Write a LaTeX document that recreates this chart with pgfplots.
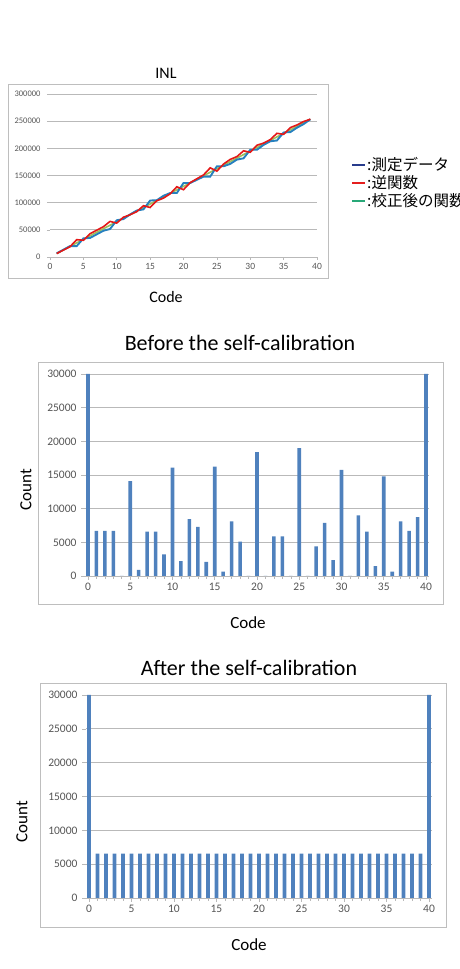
\documentclass[border=0pt]{standalone}
\usepackage{pgfplots}
\pgfplotsset{compat=1.18}
\usepackage{pgfplotstable}
\usepackage{fontspec}
\setmainfont{Carlito}
\newfontfamily\cjk{Noto Sans CJK JP}

\definecolor{barblue}{RGB}{79,129,189}
\definecolor{gridgray}{RGB}{185,185,185}
\definecolor{boxgray}{RGB}{190,190,190}
\definecolor{ticktext}{RGB}{85,85,85}
\definecolor{meas}{RGB}{38,128,190}
\definecolor{inv}{RGB}{228,24,24}
\definecolor{cal}{RGB}{160,190,90}
\definecolor{legblue}{RGB}{40,60,140}
\definecolor{legred}{RGB}{228,30,30}
\definecolor{leggreen}{RGB}{40,168,120}

% code histogram before calibration
\pgfplotstableread{
code count
0 30000
1 6700
2 6700
3 6700
4 0
5 14100
6 900
7 6600
8 6600
9 3200
10 16100
11 2200
12 8450
13 7300
14 2100
15 16250
16 650
17 8100
18 5100
19 0
20 18400
21 0
22 5900
23 5900
24 0
25 19000
26 0
27 4400
28 7900
29 2350
30 15750
31 0
32 9000
33 6600
34 1450
35 14800
36 650
37 8100
38 6700
39 8750
40 30000
}\before

% code histogram after calibration
\pgfplotstableread{
code count
0 30000
1 6550
2 6550
3 6550
4 6550
5 6550
6 6550
7 6550
8 6550
9 6550
10 6550
11 6550
12 6550
13 6550
14 6550
15 6550
16 6550
17 6550
18 6550
19 6550
20 6550
21 6550
22 6550
23 6550
24 6550
25 6550
26 6550
27 6550
28 6550
29 6550
30 6550
31 6550
32 6550
33 6550
34 6550
35 6550
36 6550
37 6550
38 6550
39 6550
40 30000
}\after

% transfer curves: measured, inverse, calibrated
\pgfplotstableread{
code meas inv cal
1 6700 6300 6500
2 13400 12600 13000
3 20100 18900 19500
4 20100 31900 26000
5 34200 30800 32500
6 35100 42900 39000
7 41700 49300 45500
8 48300 55700 52000
9 51500 65500 58500
10 67600 62400 65000
11 69800 73200 71500
12 78250 77750 78000
13 85550 83450 84500
14 87650 94350 91000
15 103900 91100 97500
16 104550 103450 104000
17 112650 108350 110500
18 117750 116250 117000
19 117750 129250 123500
20 136150 123850 130000
21 136150 136850 136500
22 142050 143950 143000
23 147950 151050 149500
24 147950 164050 156000
25 166950 158050 162500
26 166950 171050 169000
27 171350 179650 175500
28 179250 184750 182000
29 181600 195400 188500
30 197350 192650 195000
31 197350 205650 201500
32 206350 209650 208000
33 212950 216050 214500
34 214400 227600 221000
35 229200 225800 227500
36 229850 238150 234000
37 237950 243050 240500
38 244650 249350 247000
39 253400 253600 253500
}\inl

\pgfplotsset{
  histo/.style={
    anchor=south west, scale only axis,
    xmin=-0.35, xmax=40.35, ymin=0, ymax=30000,
    axis x line*=bottom, axis y line*=left,
    y axis line style={draw=none},
    x axis line style={gridgray, line width=0.7pt},
    ymajorgrids, grid style={gridgray, line width=0.7pt},
    xtick={0,5,...,40}, minor xtick={0,1,...,40},
    ytick={0,5000,...,30000},
    tick align=outside, tick style={gridgray, line width=0.6pt},
    major tick length=4pt, minor tick length=3pt,
    scaled y ticks=false,
    /pgf/number format/fixed,
    /pgf/number format/1000 sep={},
    /pgf/number format/assume math mode=true,
    tick label style={font=\fontsize{11.5}{12}\selectfont, text=ticktext},
    yticklabel style={xshift=-1pt},
    ybar, bar width=3.6pt,
    clip=false,
  },
}

\begin{document}
\begin{tikzpicture}

% ---------- INL ----------
\draw[boxgray, line width=0.8pt] (8pt,691pt) rectangle (328pt,885pt);
\node[font=\fontsize{16}{16}\selectfont] at (166pt,896pt) {INL};
\node[font=\fontsize{16}{16}\selectfont] at (166pt,672pt) {Code};
\begin{axis}[
  at={(50pt,712pt)}, anchor=south west, scale only axis,
  width=267pt, height=163pt,
  xmin=0, xmax=40, ymin=0, ymax=300000,
  axis x line*=bottom, axis y line*=left,
  y axis line style={draw=none},
  x axis line style={gridgray, line width=0.7pt},
  ymajorgrids, grid style={gridgray, line width=0.7pt},
  xtick={0,5,...,40}, ytick={0,50000,...,300000},
  tick align=outside, tick style={gridgray, line width=0.6pt},
  major tick length=3pt,
  scaled y ticks=false,
  /pgf/number format/fixed,
  /pgf/number format/1000 sep={},
  /pgf/number format/assume math mode=true,
  xticklabel style={font=\fontsize{9.5}{10}\selectfont, text=ticktext},
  yticklabel style={font=\fontsize{8.5}{9}\selectfont, text=ticktext, xshift=-3pt},
  legend style={at={(1.118,0.63)}, anchor=north west, draw=none, fill=none,
    font=\cjk\fontsize{15.5}{16}\selectfont, row sep=1.5pt,
    nodes={inner sep=1pt}},
  legend cell align=left,
  legend image code/.code={\draw[#1, line width=1.5pt] (0pt,0pt) -- (13pt,0pt);},
]
\addplot[cal, line width=1.6pt, forget plot] table[x=code, y=cal] {\inl};
\addplot[meas, line width=1.9pt, forget plot] table[x=code, y=meas] {\inl};
\addplot[inv, line width=1.6pt, forget plot] table[x=code, y=inv] {\inl};
\addlegendimage{legblue}
\addlegendentry{:測定データ}
\addlegendimage{legred}
\addlegendentry{:逆関数}
\addlegendimage{leggreen}
\addlegendentry{:校正後の関数}
\end{axis}

% ---------- before calibration ----------
\draw[boxgray, line width=0.8pt] (38pt,365pt) rectangle (443pt,607pt);
\node[font=\fontsize{22}{22}\selectfont] at (240pt,626pt) {Before the self-calibration};
\node[font=\fontsize{17}{17}\selectfont] at (248pt,346pt) {Code};
\node[font=\fontsize{17}{17}\selectfont, rotate=90] at (26pt,479pt) {Count};
\begin{axis}[histo, at={(85pt,393pt)}, width=344pt, height=202pt]
\addplot[fill=barblue, draw=none] table[x=code, y=count] {\before};
\end{axis}

% ---------- after calibration ----------
\draw[boxgray, line width=0.8pt] (40pt,42pt) rectangle (446pt,286pt);
\node[font=\fontsize{22}{22}\selectfont] at (249pt,301pt) {After the self-calibration};
\node[font=\fontsize{17}{17}\selectfont] at (249pt,24pt) {Code};
\node[font=\fontsize{17}{17}\selectfont, rotate=90] at (22pt,147pt) {Count};
\begin{axis}[histo, at={(86pt,71pt)}, width=346pt, height=203pt]
\addplot[fill=barblue, draw=none] table[x=code, y=count] {\after};
\end{axis}

\pgfresetboundingbox
\path[use as bounding box] (0pt,0pt) rectangle (460pt,969pt);
\end{tikzpicture}
\end{document}
